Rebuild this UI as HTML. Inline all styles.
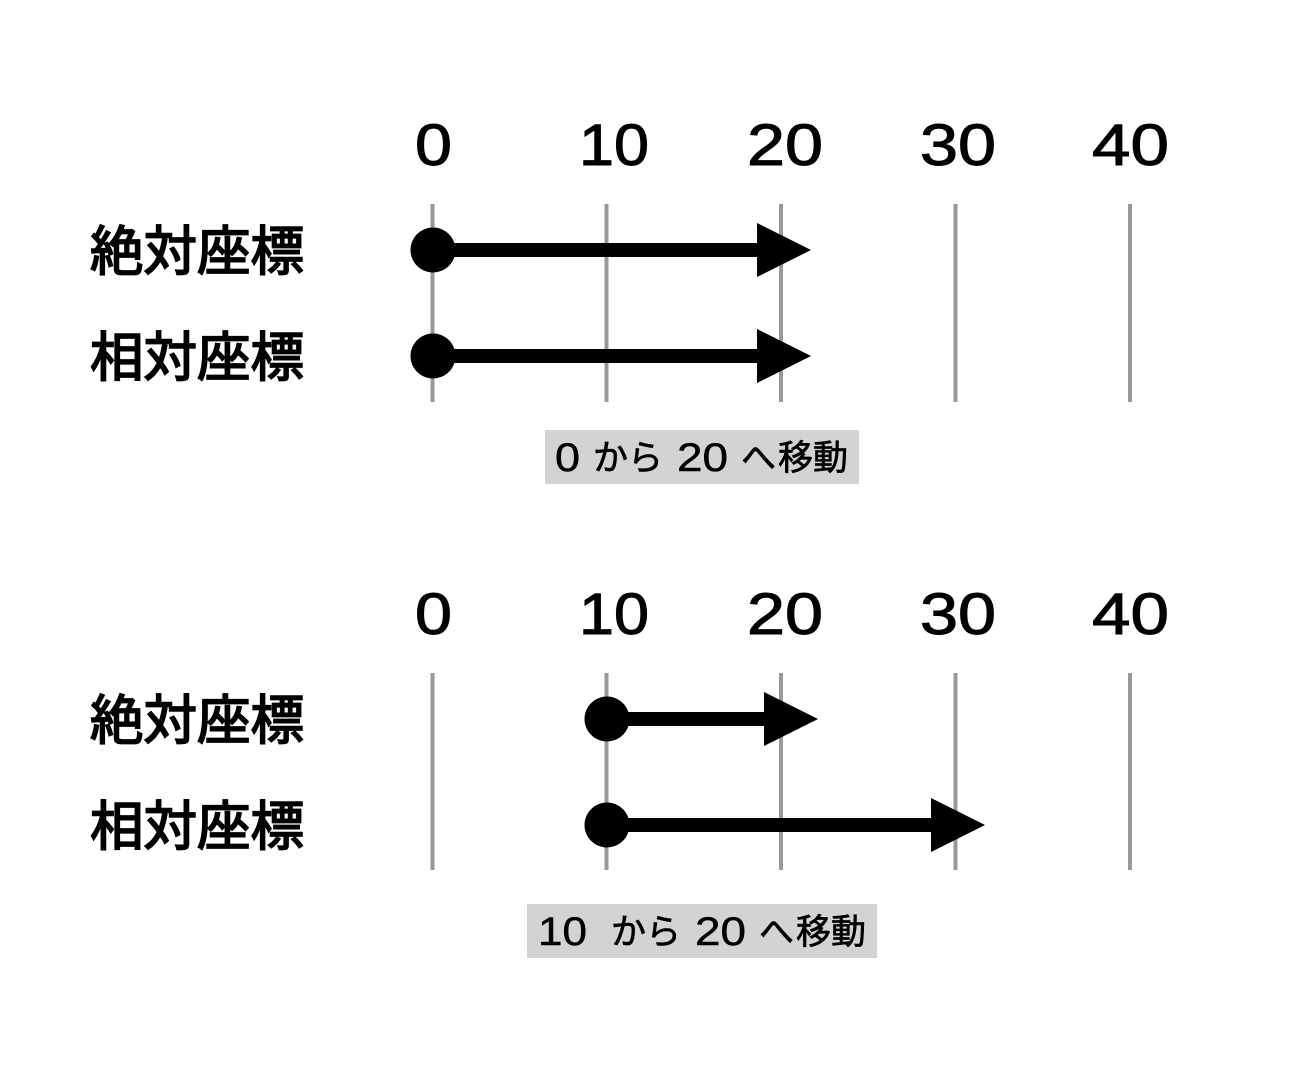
<!DOCTYPE html>
<html lang="ja">
<head>
<meta charset="utf-8">
<style>
html,body{margin:0;padding:0;background:#fff;width:1300px;height:1067px;overflow:hidden}
svg{display:block}
.n{font-family:"Liberation Sans",sans-serif;font-size:58px;fill:#000;stroke:#000;stroke-width:1px}
.l{font-family:"Liberation Sans","Noto Sans CJK JP",sans-serif;font-size:53.5px;fill:#000;stroke:#000;stroke-width:1.8px}
.d{font-family:"Liberation Sans",sans-serif;font-size:40px;fill:#000;stroke:#000;stroke-width:.5px}
.k{font-family:"Noto Sans CJK JP",sans-serif;font-size:35px;fill:#000;stroke:#000;stroke-width:.7px}
</style>
</head>
<body>
<svg width="1300" height="1067" viewBox="0 0 1300 1067" xmlns="http://www.w3.org/2000/svg">
<rect width="1300" height="1067" fill="#fff"/>
<g stroke="#999" stroke-width="4">
<path d="M432.5 204V402M606.5 204V402M781 204V402M955.5 204V402M1130 204V402"/>
<path d="M432.5 673V870M606.5 673V870M781 673V870M955.5 673V870M1130 673V870"/>
</g>
<text class="n" x="415" y="165" textLength="37" lengthAdjust="spacingAndGlyphs">0</text>
<text class="n" x="579" y="165" textLength="70" lengthAdjust="spacingAndGlyphs">10</text>
<text class="n" x="747" y="165" textLength="76" lengthAdjust="spacingAndGlyphs">20</text>
<text class="n" x="920" y="165" textLength="76" lengthAdjust="spacingAndGlyphs">30</text>
<text class="n" x="1092" y="165" textLength="77" lengthAdjust="spacingAndGlyphs">40</text>
<text class="n" x="415" y="634" textLength="37" lengthAdjust="spacingAndGlyphs">0</text>
<text class="n" x="579" y="634" textLength="70" lengthAdjust="spacingAndGlyphs">10</text>
<text class="n" x="747" y="634" textLength="76" lengthAdjust="spacingAndGlyphs">20</text>
<text class="n" x="920" y="634" textLength="76" lengthAdjust="spacingAndGlyphs">30</text>
<text class="n" x="1092" y="634" textLength="77" lengthAdjust="spacingAndGlyphs">40</text>
<text class="l" x="90" y="270">絶対座標</text>
<text class="l" x="90" y="376">相対座標</text>
<text class="l" x="90" y="739">絶対座標</text>
<text class="l" x="90" y="845">相対座標</text>
<g fill="#000">
<circle cx="433" cy="250" r="22.5"/><rect x="433" y="243" width="326" height="14"/><polygon points="757,223 811,250 757,277"/>
<circle cx="433" cy="356" r="22.5"/><rect x="433" y="349" width="326" height="14"/><polygon points="757,329 811,356 757,383"/>
<circle cx="607" cy="719" r="22.5"/><rect x="607" y="712" width="159" height="14"/><polygon points="764,692 818,719 764,746"/>
<circle cx="607" cy="825" r="22.5"/><rect x="607" y="818" width="326" height="14"/><polygon points="931,798 985,825 931,852"/>
</g>
<rect x="545" y="430" width="314" height="54" fill="#d3d3d3"/>
<rect x="527" y="904" width="350" height="54" fill="#d3d3d3"/>
<text class="d" x="555" y="471" textLength="25" lengthAdjust="spacingAndGlyphs">0</text>
<text class="k" x="593" y="470">から</text>
<text class="d" x="677" y="471" textLength="51" lengthAdjust="spacingAndGlyphs">20</text>
<text class="k" x="741" y="470">へ</text>
<text class="k" x="778" y="470">移動</text>
<text class="d" x="538" y="945" textLength="49" lengthAdjust="spacingAndGlyphs">10</text>
<text class="k" x="611" y="944">から</text>
<text class="d" x="695" y="945" textLength="51" lengthAdjust="spacingAndGlyphs">20</text>
<text class="k" x="759" y="944">へ</text>
<text class="k" x="796" y="944">移動</text>
</svg>
</body>
</html>
